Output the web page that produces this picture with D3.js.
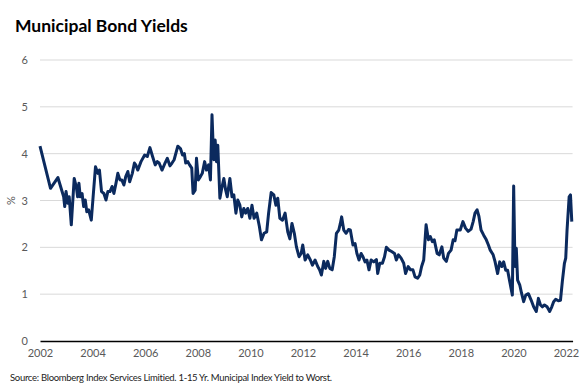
<!DOCTYPE html>
<html>
<head>
<meta charset="utf-8">
<script src="https://cdn.jsdelivr.net/npm/d3@7"></script>
<style>
  body { margin: 0; background: #fff; }
  text { font-family: Lato, "Open Sans", sans-serif; }
</style>
</head>
<body>
<svg id="chart"></svg>
<script>
// decimal years and index yield (%)
const years = [
  2002.0, 2002.4, 2002.68, 2002.9, 2002.94, 2002.99, 2003.06, 2003.11, 2003.19, 2003.3, 2003.38, 2003.43,
  2003.48, 2003.53, 2003.6, 2003.66, 2003.72, 2003.78, 2003.85, 2003.95, 2004.02, 2004.11, 2004.2, 2004.26,
  2004.34, 2004.43, 2004.51, 2004.58, 2004.66, 2004.74, 2004.81, 2004.89, 2004.96, 2005.04, 2005.11, 2005.19,
  2005.26, 2005.34, 2005.41, 2005.51, 2005.59, 2005.64, 2005.72, 2005.84, 2005.98, 2006.08, 2006.18, 2006.28,
  2006.38, 2006.46, 2006.53, 2006.64, 2006.74, 2006.84, 2006.94, 2007.02, 2007.1, 2007.24, 2007.34, 2007.42,
  2007.49, 2007.54, 2007.62, 2007.69, 2007.77, 2007.82, 2007.9, 2007.95, 2008.02, 2008.1, 2008.17, 2008.26,
  2008.33, 2008.41, 2008.48, 2008.54, 2008.58, 2008.61, 2008.66, 2008.71, 2008.76, 2008.84, 2008.91, 2008.99,
  2009.06, 2009.12, 2009.22, 2009.3, 2009.37, 2009.45, 2009.52, 2009.6, 2009.67, 2009.75, 2009.82, 2009.9,
  2009.98, 2010.06, 2010.14, 2010.24, 2010.34, 2010.42, 2010.52, 2010.62, 2010.69, 2010.79, 2010.89, 2010.97,
  2011.04, 2011.12, 2011.22, 2011.32, 2011.42, 2011.5, 2011.58, 2011.67, 2011.75, 2011.85, 2011.93, 2011.99,
  2012.08, 2012.18, 2012.28, 2012.36, 2012.46, 2012.56, 2012.63, 2012.7, 2012.79, 2012.86, 2012.94, 2013.02,
  2013.11, 2013.19, 2013.27, 2013.36, 2013.42, 2013.47, 2013.55, 2013.64, 2013.73, 2013.8, 2013.9, 2013.98,
  2014.05, 2014.13, 2014.21, 2014.28, 2014.36, 2014.43, 2014.51, 2014.59, 2014.69, 2014.79, 2014.84, 2014.92,
  2015.02, 2015.1, 2015.17, 2015.27, 2015.37, 2015.48, 2015.55, 2015.63, 2015.73, 2015.83, 2015.9, 2016.0,
  2016.09, 2016.18, 2016.26, 2016.36, 2016.44, 2016.51, 2016.59, 2016.68, 2016.77, 2016.84, 2016.92, 2016.99,
  2017.1, 2017.18, 2017.28, 2017.35, 2017.45, 2017.53, 2017.63, 2017.71, 2017.78, 2017.85, 2017.98, 2018.08,
  2018.18, 2018.28, 2018.39, 2018.47, 2018.54, 2018.62, 2018.69, 2018.77, 2018.87, 2018.97, 2019.05, 2019.12,
  2019.23, 2019.3, 2019.4, 2019.48, 2019.56, 2019.63, 2019.71, 2019.78, 2019.86, 2019.96, 2020.01, 2020.06,
  2020.11, 2020.16, 2020.24, 2020.31, 2020.39, 2020.47, 2020.57, 2020.67, 2020.77, 2020.87, 2020.95, 2021.03,
  2021.1, 2021.18, 2021.28, 2021.38, 2021.46, 2021.53, 2021.61, 2021.71, 2021.79, 2021.86, 2021.94, 2021.99,
  2022.04, 2022.12, 2022.17, 2022.22
];
const yields = [
  4.16, 3.26, 3.49, 3.08, 2.87, 3.19, 2.94, 3.08, 2.48, 3.47, 3.29, 3.08,
  3.37, 3.08, 3.15, 2.87, 3.01, 2.76, 2.80, 2.58, 3.08, 3.72, 3.58, 3.65,
  3.19, 3.15, 3.01, 3.19, 3.19, 3.30, 3.15, 3.37, 3.58, 3.44, 3.44, 3.33,
  3.51, 3.62, 3.40, 3.58, 3.80, 3.76, 3.65, 3.83, 3.97, 3.94, 4.13, 3.94,
  3.76, 3.83, 3.80, 3.65, 3.78, 3.90, 3.74, 3.80, 3.87, 4.16, 4.11, 3.97,
  4.00, 3.80, 3.83, 3.76, 3.69, 3.15, 3.22, 3.90, 3.44, 3.51, 3.58, 3.83,
  3.65, 3.76, 3.44, 4.83, 4.22, 3.87, 4.29, 3.83, 4.18, 3.05, 3.26, 3.47,
  3.22, 3.08, 3.47, 3.08, 3.12, 2.73, 3.01, 2.90, 2.65, 2.83, 2.73, 2.83,
  2.62, 2.90, 2.62, 2.73, 2.45, 2.16, 2.30, 2.33, 2.72, 3.17, 3.12, 2.90,
  3.05, 2.62, 2.58, 2.73, 2.33, 2.18, 2.51, 2.30, 2.01, 1.80, 1.87, 2.05,
  1.73, 1.84, 1.73, 1.62, 1.73, 1.59, 1.52, 1.41, 1.70, 1.55, 1.70, 1.55,
  1.52, 1.80, 2.30, 2.37, 2.51, 2.65, 2.37, 2.30, 2.38, 2.37, 2.05, 2.08,
  1.87, 1.73, 1.87, 1.80, 1.69, 1.73, 1.52, 1.73, 1.69, 1.74, 1.44, 1.66,
  1.66, 1.80, 2.00, 1.94, 1.91, 1.87, 1.73, 1.84, 1.77, 1.66, 1.44, 1.59,
  1.52, 1.52, 1.37, 1.34, 1.41, 1.59, 1.73, 2.48, 2.16, 2.23, 2.12, 2.16,
  1.87, 1.84, 2.01, 1.77, 1.70, 1.87, 1.94, 2.16, 2.14, 2.37, 2.37, 2.55,
  2.41, 2.34, 2.39, 2.55, 2.73, 2.80, 2.66, 2.37, 2.26, 2.16, 2.05, 1.94,
  1.84, 1.70, 1.44, 1.69, 1.59, 1.69, 1.51, 1.51, 1.27, 0.98, 3.31, 1.59,
  1.98, 1.30, 1.20, 1.02, 0.84, 0.98, 1.01, 0.88, 0.73, 0.63, 0.91, 0.77,
  0.73, 0.77, 0.73, 0.63, 0.73, 0.84, 0.89, 0.86, 0.87, 1.27, 1.66, 1.77,
  2.37, 3.08, 3.12, 2.55
];
const yTicks = [0, 1, 2, 3, 4, 5, 6];
const xTicks = [2002, 2004, 2006, 2008, 2010, 2012, 2014, 2016, 2018, 2020, 2022];

const width = 588, height = 388;
const margin = { top: 60, right: 16, bottom: 47, left: 40 };

const svg = d3.select("#chart")
  .attr("width", width)
  .attr("height", height);

const x = d3.scaleLinear()
  .domain([2002, 2022.25])
  .range([margin.left, margin.left + 26.3 * 20.25]);

const y = d3.scaleLinear()
  .domain([0, 6])
  .range([height - margin.bottom, margin.top]);

// title
svg.append("text")
  .attr("x", 15)
  .attr("y", 32)
  .attr("font-size", "17.5px")
  .attr("font-weight", "bold")
  .attr("fill", "#000")
  .text("Municipal Bond Yields");

// gridlines
svg.append("g")
  .selectAll("line")
  .data(yTicks.filter(d => d > 0))
  .enter().append("line")
  .attr("x1", x.range()[0])
  .attr("x2", x.range()[1])
  .attr("y1", d => y(d))
  .attr("y2", d => y(d))
  .attr("stroke", "#d9d9d9")
  .attr("stroke-width", 1);

// y axis labels
const yAxis = svg.append("g")
  .attr("transform", `translate(${margin.left},0)`)
  .call(d3.axisLeft(y).tickValues(yTicks).tickFormat(d3.format("d")).tickSize(0).tickPadding(12));
yAxis.select(".domain").remove();
yAxis.selectAll("text")
  .attr("font-size", "11px")
  .attr("fill", "#595959")
  .style("font-family", "Lato, 'Open Sans', sans-serif");

svg.append("text")
  .attr("transform", `translate(15,${y(3)}) rotate(-90)`)
  .attr("text-anchor", "middle")
  .attr("font-size", "11px")
  .attr("fill", "#595959")
  .text("%");

// x axis
const xAxis = svg.append("g")
  .attr("transform", `translate(0,${y(0)})`)
  .call(d3.axisBottom(x).tickValues(xTicks).tickFormat(d3.format("d")).tickSize(0).tickPadding(8));
xAxis.select(".domain")
  .attr("stroke", "#000")
  .attr("stroke-width", 1.5);
xAxis.selectAll("text")
  .attr("font-size", "11px")
  .attr("fill", "#595959")
  .style("font-family", "Lato, 'Open Sans', sans-serif");

// line
const data = years.map((d, i) => ({ year: d, value: yields[i] }));
const line = d3.line()
  .x(d => x(d.year))
  .y(d => y(d.value));

svg.append("path")
  .datum(data)
  .attr("fill", "none")
  .attr("stroke", "#0b2a5e")
  .attr("stroke-width", 3)
  .attr("stroke-linejoin", "round")
  .attr("d", line);

// source note
svg.append("text")
  .attr("x", 10)
  .attr("y", 381)
  .attr("font-size", "9.5px")
  .attr("fill", "#222")
  .attr("letter-spacing", "-0.3px")
  .text("Source: Bloomberg Index Services Limitied. 1-15 Yr. Municipal Index Yield to Worst.");
</script>
</body>
</html>
